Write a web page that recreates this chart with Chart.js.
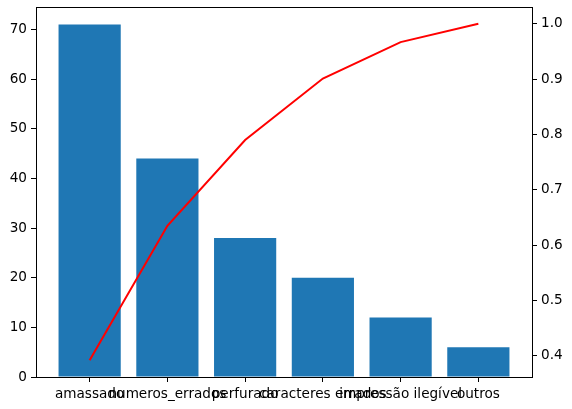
<!DOCTYPE html>
<html>
<head>
<meta charset="utf-8">
<script src="https://cdn.jsdelivr.net/npm/chart.js@4.4.1/dist/chart.umd.min.js"></script>
<style>
  html, body { margin: 0; padding: 0; background: #fff; }
  canvas { display: block; }
</style>
</head>
<body>
<canvas id="grafico" width="572" height="409"></canvas>
<script>
// dados do gráfico de pareto
const categorias = ['amassado', 'numeros_errados', 'perfurado', 'caracteres errados', 'impressão ilegível', 'outros'];
const quantidades = [71, 44, 28, 20, 12, 6];
const acumulado = [0.392, 0.635, 0.790, 0.901, 0.967, 1.0];
const ticksEsquerda = [0, 10, 20, 30, 40, 50, 60, 70];
const ticksDireita = [0.4, 0.5, 0.6, 0.7, 0.8, 0.9, 1.0];

const fonte = { family: 'DejaVu Sans', size: 13.6 };

// moldura completa em volta da área do gráfico
const moldura = {
  id: 'moldura',
  afterDraw(chart) {
    const a = chart.chartArea;
    const ctx = chart.ctx;
    ctx.save();
    ctx.strokeStyle = '#000';
    ctx.lineWidth = 1;
    ctx.strokeRect(Math.round(a.left) + 0.5, Math.round(a.top) + 0.5,
      Math.round(a.right - a.left), Math.round(a.bottom - a.top));
    ctx.restore();
  }
};

const eixoGrade = {
  display: true,
  drawOnChartArea: false,
  drawTicks: true,
  tickLength: 5,
  color: '#000',
  tickColor: '#000'
};

const config = {
  data: {
    datasets: [
      {
        type: 'line',
        order: 0,
        data: acumulado.map((v, i) => ({ x: i, y: v })),
        borderColor: 'red',
        borderWidth: 2,
        pointRadius: 0,
        yAxisID: 'y2',
        xAxisID: 'x'
      },
      {
        type: 'bar',
        order: 1,
        data: quantidades.map((v, i) => ({ x: i, y: v })),
        backgroundColor: '#1f77b4',
        borderWidth: 0,
        inflateAmount: 0,
        barPercentage: 0.8,
        categoryPercentage: 1.0,
        yAxisID: 'y',
        xAxisID: 'x'
      }
    ]
  },
  options: {
    responsive: false,
    animation: false,
    layout: { padding: { top: 7, right: 0, left: 0, bottom: 0 } },
    plugins: { legend: { display: false }, tooltip: { enabled: false } },
    scales: {
      x: {
        type: 'linear',
        offset: false,
        min: -0.69,
        max: 5.69,
        grid: Object.assign({}, eixoGrade, { offset: false }),
        border: { display: false },
        afterBuildTicks: (s) => { s.ticks = categorias.map((c, i) => ({ value: i })); },
        afterFit: (s) => { s.height = 32; s.paddingLeft = 0; s.paddingRight = 0; },
        ticks: {
          autoSkip: false,
          maxRotation: 0,
          padding: 4,
          color: '#000',
          font: fonte,
          callback: (v) => categorias[v]
        }
      },
      y: {
        position: 'left',
        min: 0,
        max: 74.55,
        grid: eixoGrade,
        border: { display: false },
        afterBuildTicks: (s) => { s.ticks = ticksEsquerda.map(v => ({ value: v })); },
        afterFit: (s) => { s.width = 36; s.paddingTop = 0; s.paddingBottom = 0; },
        ticks: { padding: 4, color: '#000', font: fonte }
      },
      y2: {
        position: 'right',
        min: 0.3616,
        max: 1.0304,
        grid: eixoGrade,
        border: { display: false },
        afterBuildTicks: (s) => { s.ticks = ticksDireita.map(v => ({ value: v })); },
        afterFit: (s) => { s.width = 40; s.paddingTop = 0; s.paddingBottom = 0; },
        ticks: { padding: 4, color: '#000', font: fonte, callback: (v) => v.toFixed(1) }
      }
    }
  },
  plugins: [moldura]
};

var graficoPareto = new Chart(document.getElementById('grafico'), config);
</script>
</body>
</html>
